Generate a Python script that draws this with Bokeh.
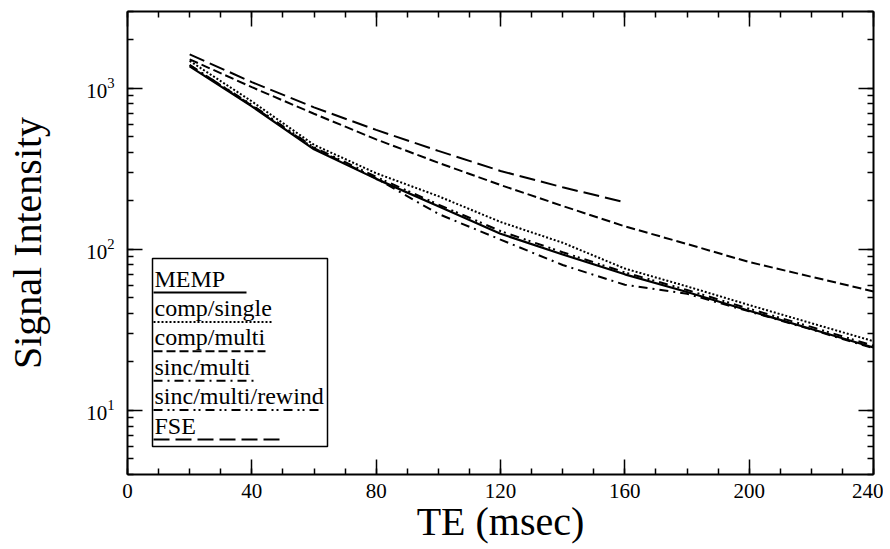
import math
from bokeh.plotting import figure
from bokeh.models import (LinearAxis, LogAxis, SingleIntervalTicker, LogTicker, Range1d,
                          Label, BoxAnnotation, CustomJSTickFormatter)
from bokeh.embed import file_html
from bokeh.resources import INLINE

# ---------------- data ----------------
te = [20, 40, 60, 80, 100, 120, 140, 160, 180, 200, 220, 240]
memp = [1370, 773, 418, 274, 185, 125, 93, 70, 54.4, 41.6, 32.0, 24.6]
comp_single = [1480, 830, 446, 297, 214, 148, 110, 76, 58.9, 45.1, 34.8, 26.9]
comp_multi = [1514, 1017, 695, 482, 345, 251, 186, 139, 108, 83.4, 67.6, 54.8]
sinc_multi = [1400, 780, 425, 276, 166, 115, 80, 60.3, 53.0, 41.2, 31.8, 24.3]
sinc_rewind = [1390, 790, 430, 282, 190, 130, 96, 72, 56.0, 42.8, 33.0, 25.2]
fse_te = [20, 40, 60, 80, 100, 120, 140, 160]
fse = [1626, 1093, 762, 552, 409, 307, 243, 196]

legend_names = ["MEMP", "comp/single", "comp/multi", "sinc/multi", "sinc/multi/rewind", "FSE"]
x_ticks_interval = 40

# ---------------- styling ----------------
SERIF = "Liberation Serif"
X0, X1 = 0, 240
Y0, Y1 = 4, 3000
FW, FH = 746, 463

p = figure(frame_width=FW, frame_height=FH,
           x_range=Range1d(X0, X1), y_range=Range1d(Y0, Y1),
           y_axis_type="log", output_backend="svg", toolbar_location=None,
           min_border_left=127, min_border_top=11, min_border_right=10, min_border_bottom=10,
           background_fill_color="white", border_fill_color="white")
p.grid.visible = False
p.outline_line_color = None

series = [
    (te, memp, "solid", 2.2),
    (te, comp_single, "2 2", 2.0),
    (te, comp_multi, "9 4", 2.0),
    (te, sinc_multi, "9 5 2 5", 2.0),
    (te, sinc_rewind, "9 5 2 3 2 5", 2.0),
    (fse_te, fse, "16 6", 2.0),
]
for xs, ys, dash, w in series:
    p.line(xs, ys, line_color="black", line_width=w, line_dash=dash)

# ---------------- axes ----------------
xt = SingleIntervalTicker(interval=x_ticks_interval, num_minor_ticks=4)
yt = LogTicker(num_minor_ticks=10)

def style_axis(ax):
    ax.axis_line_width = 2
    ax.axis_line_color = "black"
    ax.major_tick_in = 15
    ax.major_tick_out = 0
    ax.minor_tick_in = 6
    ax.minor_tick_out = 0
    ax.major_tick_line_width = 1.5
    ax.minor_tick_line_width = 1.5
    ax.major_label_text_font = SERIF
    ax.major_label_text_font_size = "21px"
    ax.major_label_text_color = "black"
    ax.axis_label_text_font = SERIF
    ax.axis_label_text_font_style = "normal"
    ax.axis_label_text_color = "black"

xa = p.xaxis[0]
xa.ticker = xt
style_axis(xa)
xa.major_label_standoff = 9
xa.axis_label = "TE (msec)"
xa.axis_label_text_font_size = "40px"
xa.axis_label_standoff = -2

ya = p.yaxis[0]
ya.ticker = yt
style_axis(ya)
ya.major_label_standoff = 13
ya.axis_label = "Signal Intensity"
ya.axis_label_text_font_size = "40px"
ya.axis_label_standoff = 33

top = LinearAxis(ticker=xt, formatter=CustomJSTickFormatter(code="return ''"))
style_axis(top)
top.major_label_standoff = 0
top.major_label_text_font_size = "0px"
p.add_layout(top, "above")
right = LogAxis(ticker=yt, formatter=CustomJSTickFormatter(code="return ''"))
style_axis(right)
right.major_label_standoff = 0
right.major_label_text_font_size = "0px"
p.add_layout(right, "right")

# ---------------- legend (drawn by hand, positions in frame pixels) ----------------
LY0, LY1 = math.log10(Y0), math.log10(Y1)

def dx(px):  # px from frame left
    return X0 + px / FW * (X1 - X0)

def dy(py):  # py from frame top
    return 10 ** (LY0 + (FH - py) / FH * (LY1 - LY0))

box = BoxAnnotation(left=dx(25), right=dx(200), top=dy(247), bottom=dy(435),
                    fill_color=None, fill_alpha=0, line_color="black", line_alpha=1,
                    line_width=1.5, level="underlay")
p.add_layout(box)

sample_len = [93, 118, 112, 100, 165, 127]
for i, name in enumerate(legend_names):
    line_y = 281 + 29.4 * i
    p.add_layout(Label(x=dx(27), y=dy(line_y - 14), text=name, text_font=SERIF,
                       text_font_size="24px", text_baseline="middle", text_align="left",
                       text_color="black"))
    dash = series[i][2]
    p.line([dx(26), dx(26 + sample_len[i])], [dy(line_y), dy(line_y)],
           line_color="black", line_width=2, line_dash=dash)

open("out.html", "w").write(file_html(p, INLINE))
